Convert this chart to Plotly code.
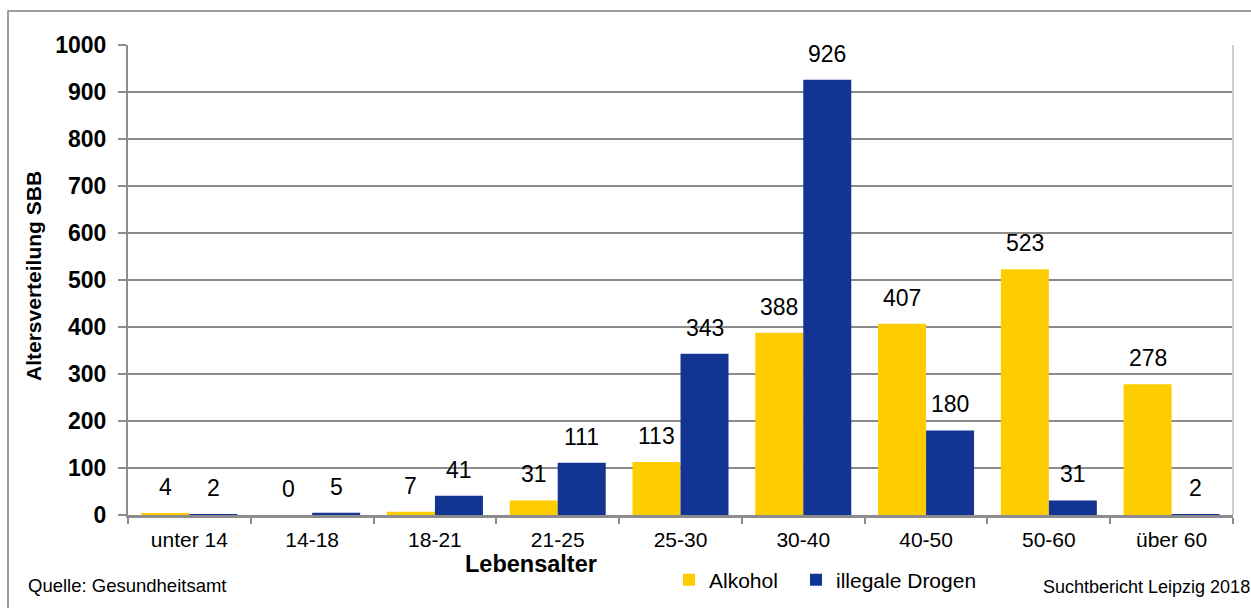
import plotly.graph_objects as go

categories = ["unter 14", "14-18", "18-21", "21-25", "25-30", "30-40", "40-50", "50-60", "über 60"]
alkohol = [4, 0, 7, 31, 113, 388, 407, 523, 278]
drogen = [2, 5, 41, 111, 343, 926, 180, 31, 2]
series_names = ["Alkohol", "illegale Drogen"]
y_ticks = list(range(0, 1001, 100))

FONT = "Liberation Sans, Arial, sans-serif"
YEL = "#FFCC00"
BLU = "#123492"
GRID = "#8c8c8c"

W, H = 1251, 608
ML, MR, MT, MB = 128, 18, 45, 93
PW = W - ML - MR
PH = H - MT - MB

def px_x(p):
    return (p - ML) / PW

def px_y(p):
    return (H - MB - p) / PH

BARGAP = 0.218
half = (1 - BARGAP) / 2

fig = go.Figure()
fig.add_trace(go.Bar(x=categories, y=alkohol, name=series_names[0], legend="legend",
                     marker=dict(color=YEL, line=dict(width=0))))
fig.add_trace(go.Bar(x=categories, y=drogen, name=series_names[1], legend="legend2",
                     marker=dict(color=BLU, line=dict(width=0))))

annotations = []
for i in range(len(categories)):
    for off, vals in ((-half / 2, alkohol), (half / 2, drogen)):
        annotations.append(dict(x=i + off, y=vals[i], xref="x", yref="y",
                                text=str(vals[i]), showarrow=False,
                                yanchor="bottom", yshift=11,
                                font=dict(family=FONT, size=23, color="#000")))

annotations += [
    dict(x=px_x(33), y=px_y(276), xref="paper", yref="paper", text="<b>Altersverteilung SBB</b>",
         showarrow=False, textangle=-90, font=dict(family=FONT, size=21, color="#000"),
         xanchor="center", yanchor="middle"),
    dict(x=px_x(531), y=px_y(564), xref="paper", yref="paper", text="<b>Lebensalter</b>",
         showarrow=False, font=dict(family=FONT, size=23.5, color="#000"),
         xanchor="center", yanchor="middle"),
    dict(x=px_x(26), y=px_y(585), xref="paper", yref="paper", text="Quelle: Gesundheitsamt",
         showarrow=False, font=dict(family=FONT, size=18.5, color="#000"),
         xanchor="left", yanchor="middle"),
    dict(x=px_x(1041), y=px_y(587), xref="paper", yref="paper", text="Suchtbericht Leipzig 2018",
         showarrow=False, font=dict(family=FONT, size=18, color="#000"),
         xanchor="left", yanchor="middle"),
]

shapes = [
    dict(type="rect", xref="paper", yref="paper", x0=px_x(8), x1=px_x(1262),
         y0=px_y(640), y1=px_y(11), line=dict(color="#7f7f7f", width=1.5), layer="below"),
    dict(type="line", xref="paper", yref="paper", x0=1, x1=1, y0=0, y1=1,
         line=dict(color="#d0d0d0", width=2)),
]

legend_common = dict(orientation="h", xanchor="left", yanchor="middle",
                     font=dict(family=FONT, size=21, color="#000"), bgcolor="rgba(0,0,0,0)")

fig.update_layout(
    width=W, height=H,
    margin=dict(l=ML, r=MR, t=MT, b=MB, pad=0, autoexpand=False),
    paper_bgcolor="white", plot_bgcolor="white",
    barmode="group", bargap=BARGAP, bargroupgap=0,
    font=dict(family=FONT, color="#000"),
    showlegend=True,
    legend=dict(x=px_x(669), y=px_y(580), **legend_common),
    legend2=dict(x=px_x(796), y=px_y(580), **legend_common),
    annotations=annotations,
    shapes=shapes,
)

fig.update_xaxes(type="category", showline=True, linecolor=GRID, linewidth=3,
                 ticks="outside", tickson="boundaries", ticklen=6, tickcolor=GRID, tickwidth=2,
                 tickfont=dict(family=FONT, size=21, color="#000"), ticklabelstandoff=4,
                 showgrid=False, range=[-0.5, 8.5], automargin=False)
fig.update_yaxes(range=[0, 1000], tickvals=y_ticks, showgrid=True, gridcolor=GRID, gridwidth=2,
                 showline=True, linecolor=GRID, linewidth=2, zeroline=False,
                 ticks="outside", ticklen=8, tickcolor=GRID, tickwidth=2,
                 tickfont=dict(family=FONT, size=23, color="#000", weight="bold"),
                 ticklabelstandoff=7, automargin=False)

fig.write_html("out.html")
